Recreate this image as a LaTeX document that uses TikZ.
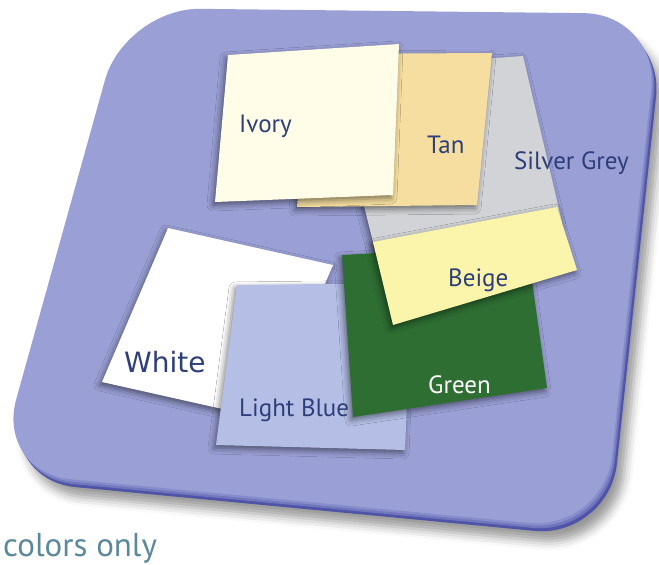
\documentclass[tikz,border=0pt]{standalone}
\usepackage{fontspec}
\setmainfont{PT Sans}
\newfontfamily\widefont{DejaVu Sans}
\usetikzlibrary{shadows.blur}
\definecolor{board}{RGB}{154,160,214}
\definecolor{rim}{RGB}{80,84,168}
\definecolor{ink}{RGB}{45,62,122}
\definecolor{caption}{RGB}{92,136,156}
\definecolor{ivory}{RGB}{255,253,232}
\definecolor{tan}{RGB}{245,222,160}
\definecolor{silver}{RGB}{210,211,214}
\definecolor{beige}{RGB}{250,245,170}
\definecolor{leaf}{RGB}{46,110,50}
\definecolor{sky}{RGB}{181,191,230}

\begin{document}
\begin{tikzpicture}[x=1pt,y=-1pt,
    paper/.style={fill=#1, blur shadow={shadow xshift=-2pt, shadow yshift=-3pt,
        shadow blur radius=6pt, shadow opacity=50}},
    lbl/.style={text=ink, inner sep=0pt, anchor=base west, font=\fontsize{25}{30}\selectfont}]
  \useasboundingbox (0,0) rectangle (659,565);
  % board: shadow, side and top face
  \fill[rim, rounded corners=75pt, shift={(5,8)},
      blur shadow={shadow xshift=7pt, shadow yshift=-10pt, shadow blur radius=9pt, shadow opacity=40}]
    (125,8) -- (659,14) -- (604,530) -- (-4,472) -- cycle;
  \foreach \dx/\dy/\col in {3/5/rim!55!board, 1.5/2.5/rim!25!board, 0/0/board}
    \fill[\col, rounded corners=75pt, shift={(\dx,\dy)}] (125,8) -- (659,14) -- (604,530) -- (-4,472) -- cycle;
  % sheets, back to front
  \foreach \col/\p/\q/\r/\s in {silver/{330,70}/{523,56}/{562,222}/{377,258},
      tan/{310,54}/{492,53}/{477,205}/{297,207},
      ivory/{228,55}/{399,44}/{393,195}/{215,202},
      white/{168,228}/{333,265}/{267,419}/{102,382},
      sky/{237,285}/{412,283}/{405,450}/{216,445},
      leaf/{342,255}/{527,245}/{547,388}/{353,417},
      beige/{373,242}/{557,207}/{577,270}/{393,325}}
    \fill[paper=\col] (\p) -- (\q) -- (\r) -- (\s) -- cycle;
  % labels
  \foreach \name/\pos/\txt in {ivory/{239,132}/Ivory, tan/{427,153}/Tan,
      silver/{514,169}/Silver Grey, beige/{448,286}/Beige, sky/{239,416}/Light Blue}
    \node[lbl] (\name) at (\pos) {\txt};
  \node[lbl, text=white] (leaf) at (428,393) {Green};
  \node[lbl, font=\widefont\fontsize{28}{32}\selectfont] (white) at (124,372) {White};
  \node[lbl, text=caption, font=\fontsize{33}{38}\selectfont] (note) at (3,556) {colors only};
\end{tikzpicture}
\end{document}
